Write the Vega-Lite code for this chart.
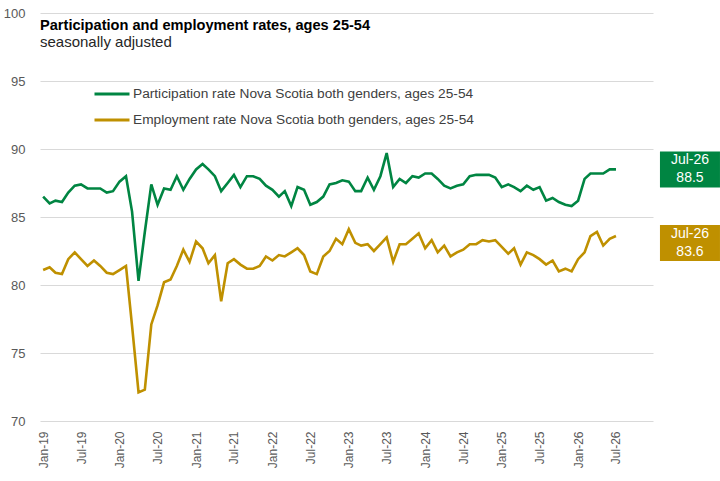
{
  "$schema": "https://vega.github.io/schema/vega-lite/v6.json",
  "width": 613,
  "height": 408,
  "autosize": {"type": "none"},
  "padding": {"left": 40, "top": 13, "right": 67, "bottom": 60},
  "background": "white",
  "title": {
    "text": "Participation and employment rates, ages 25-54",
    "subtitle": "seasonally adjusted",
    "anchor": "start",
    "frame": "group",
    "offset": -43,
    "font": "'Liberation Sans Narrow', 'Liberation Sans', sans-serif",
    "fontSize": 14.6,
    "fontWeight": "bold",
    "color": "#000000",
    "subtitleFont": "'Liberation Sans Narrow', 'Liberation Sans', sans-serif",
    "subtitleFontSize": 15,
    "subtitleColor": "#262626",
    "subtitlePadding": 2
  },
  "data": {
    "format": {"parse": {"date": "date"}},
    "values": [
      {"date": "2019/01/01", "p": 86.5, "e": 81.1},
      {"date": "2019/02/01", "p": 86.0, "e": 81.3},
      {"date": "2019/03/01", "p": 86.2, "e": 80.9},
      {"date": "2019/04/01", "p": 86.1, "e": 80.8},
      {"date": "2019/05/01", "p": 86.8, "e": 81.9},
      {"date": "2019/06/01", "p": 87.3, "e": 82.4},
      {"date": "2019/07/01", "p": 87.4, "e": 81.9},
      {"date": "2019/08/01", "p": 87.1, "e": 81.4},
      {"date": "2019/09/01", "p": 87.1, "e": 81.8},
      {"date": "2019/10/01", "p": 87.1, "e": 81.4},
      {"date": "2019/11/01", "p": 86.8, "e": 80.9},
      {"date": "2019/12/01", "p": 86.9, "e": 80.8},
      {"date": "2020/01/01", "p": 87.6, "e": 81.1},
      {"date": "2020/02/01", "p": 88.0, "e": 81.4},
      {"date": "2020/03/01", "p": 85.4, "e": 77.0},
      {"date": "2020/04/01", "p": 80.3, "e": 72.1},
      {"date": "2020/05/01", "p": 83.9, "e": 72.3},
      {"date": "2020/06/01", "p": 87.4, "e": 77.1},
      {"date": "2020/07/01", "p": 85.9, "e": 78.5},
      {"date": "2020/08/01", "p": 87.1, "e": 80.2},
      {"date": "2020/09/01", "p": 87.0, "e": 80.4},
      {"date": "2020/10/01", "p": 88.0, "e": 81.4},
      {"date": "2020/11/01", "p": 87.0, "e": 82.6},
      {"date": "2020/12/01", "p": 87.8, "e": 81.7},
      {"date": "2021/01/01", "p": 88.5, "e": 83.2},
      {"date": "2021/02/01", "p": 88.9, "e": 82.7},
      {"date": "2021/03/01", "p": 88.5, "e": 81.6},
      {"date": "2021/04/01", "p": 88.0, "e": 82.2},
      {"date": "2021/05/01", "p": 86.9, "e": 78.8},
      {"date": "2021/06/01", "p": 87.5, "e": 81.6},
      {"date": "2021/07/01", "p": 88.1, "e": 81.9},
      {"date": "2021/08/01", "p": 87.2, "e": 81.5},
      {"date": "2021/09/01", "p": 88.0, "e": 81.2},
      {"date": "2021/10/01", "p": 88.0, "e": 81.2},
      {"date": "2021/11/01", "p": 87.8, "e": 81.4},
      {"date": "2021/12/01", "p": 87.3, "e": 82.1},
      {"date": "2022/01/01", "p": 87.0, "e": 81.8},
      {"date": "2022/02/01", "p": 86.5, "e": 82.2},
      {"date": "2022/03/01", "p": 86.9, "e": 82.1},
      {"date": "2022/04/01", "p": 85.8, "e": 82.4},
      {"date": "2022/05/01", "p": 87.2, "e": 82.7},
      {"date": "2022/06/01", "p": 87.0, "e": 82.2},
      {"date": "2022/07/01", "p": 85.9, "e": 81.0},
      {"date": "2022/08/01", "p": 86.1, "e": 80.8},
      {"date": "2022/09/01", "p": 86.5, "e": 82.1},
      {"date": "2022/10/01", "p": 87.4, "e": 82.5},
      {"date": "2022/11/01", "p": 87.5, "e": 83.4},
      {"date": "2022/12/01", "p": 87.7, "e": 83.0},
      {"date": "2023/01/01", "p": 87.6, "e": 84.1},
      {"date": "2023/02/01", "p": 86.9, "e": 83.1},
      {"date": "2023/03/01", "p": 86.9, "e": 82.9},
      {"date": "2023/04/01", "p": 87.9, "e": 83.0},
      {"date": "2023/05/01", "p": 87.0, "e": 82.5},
      {"date": "2023/06/01", "p": 88.0, "e": 83.0},
      {"date": "2023/07/01", "p": 89.7, "e": 83.5},
      {"date": "2023/08/01", "p": 87.2, "e": 81.7},
      {"date": "2023/09/01", "p": 87.8, "e": 83.0},
      {"date": "2023/10/01", "p": 87.5, "e": 83.0},
      {"date": "2023/11/01", "p": 88.0, "e": 83.4},
      {"date": "2023/12/01", "p": 87.9, "e": 83.8},
      {"date": "2024/01/01", "p": 88.2, "e": 82.7},
      {"date": "2024/02/01", "p": 88.2, "e": 83.3},
      {"date": "2024/03/01", "p": 87.8, "e": 82.4},
      {"date": "2024/04/01", "p": 87.3, "e": 82.9},
      {"date": "2024/05/01", "p": 87.1, "e": 82.1},
      {"date": "2024/06/01", "p": 87.3, "e": 82.4},
      {"date": "2024/07/01", "p": 87.4, "e": 82.6},
      {"date": "2024/08/01", "p": 88.0, "e": 83.0},
      {"date": "2024/09/01", "p": 88.1, "e": 83.0},
      {"date": "2024/10/01", "p": 88.1, "e": 83.3},
      {"date": "2024/11/01", "p": 88.1, "e": 83.2},
      {"date": "2024/12/01", "p": 87.9, "e": 83.3},
      {"date": "2025/01/01", "p": 87.2, "e": 82.8},
      {"date": "2025/02/01", "p": 87.4, "e": 82.3},
      {"date": "2025/03/01", "p": 87.2, "e": 82.7},
      {"date": "2025/04/01", "p": 86.9, "e": 81.5},
      {"date": "2025/05/01", "p": 87.3, "e": 82.4},
      {"date": "2025/06/01", "p": 87.0, "e": 82.2},
      {"date": "2025/07/01", "p": 87.2, "e": 81.9},
      {"date": "2025/08/01", "p": 86.2, "e": 81.5},
      {"date": "2025/09/01", "p": 86.4, "e": 81.8},
      {"date": "2025/10/01", "p": 86.1, "e": 81.0},
      {"date": "2025/11/01", "p": 85.9, "e": 81.2},
      {"date": "2025/12/01", "p": 85.8, "e": 81.0},
      {"date": "2026/01/01", "p": 86.2, "e": 81.9},
      {"date": "2026/02/01", "p": 87.8, "e": 82.4},
      {"date": "2026/03/01", "p": 88.2, "e": 83.6},
      {"date": "2026/04/01", "p": 88.2, "e": 83.9},
      {"date": "2026/05/01", "p": 88.2, "e": 82.9},
      {"date": "2026/06/01", "p": 88.5, "e": 83.4},
      {"date": "2026/07/01", "p": 88.5, "e": 83.6}
    ]
  },
  "transform": [{"fold": ["p", "e"], "as": ["series", "rate"]}],
  "encoding": {
    "x": {
      "field": "date",
      "type": "temporal",
      "scale": {"domain": [{"year": 2018, "month": 12, "date": 17}, {"year": 2026, "month": 12, "date": 25}]},
      "axis": {
        "title": null,
        "format": "%b-%y",
        "tickCount": {"interval": "month", "step": 6},
        "labelAngle": 270,
        "labelPadding": 10,
        "labelFontSize": 12,
        "labelColor": "#595959",
        "labelFont": "Liberation Sans",
        "grid": false,
        "domain": false,
        "ticks": false,
        "labelOverlap": false
      }
    },
    "y": {
      "field": "rate",
      "type": "quantitative",
      "scale": {"domain": [70, 100], "nice": false, "zero": false},
      "axis": {
        "title": null,
        "values": [70, 75, 80, 85, 90, 95, 100],
        "domain": false,
        "ticks": false,
        "labelPadding": 15,
        "labelFontSize": 13,
        "labelColor": "#595959",
        "labelFont": "Liberation Sans",
        "gridColor": "#d9d9d9",
        "gridWidth": 1
      }
    },
    "color": {
      "field": "series",
      "type": "nominal",
      "scale": {"domain": ["p", "e"], "range": ["#008542", "#BF9000"]},
      "legend": {
        "title": null,
        "orient": "none",
        "legendX": 53,
        "legendY": 62,
        "padding": 0,
        "symbolType": "stroke",
        "symbolSize": 1225,
        "symbolStrokeWidth": 3,
        "labelFont": "'Liberation Sans Narrow', 'Liberation Sans', sans-serif",
        "labelFontSize": 13.7,
        "labelColor": "#404040",
        "labelOffset": 2,
        "labelLimit": 600,
        "rowPadding": -12,
        "labelExpr": "datum.label == 'p' ? 'Participation rate Nova Scotia both genders, ages 25-54' : 'Employment rate Nova Scotia both genders, ages 25-54'"
      }
    }
  },
  "layer": [
    {"mark": {"type": "line", "strokeWidth": 2.6}},
    {
      "transform": [{"filter": "datum.series == 'p' && datum.date >= datetime(2026, 6, 1)"}],
      "mark": {"type": "point", "shape": "M-1.667,-1L1.667,-1L1.667,1L-1.667,1Z", "size": 1296, "filled": true, "opacity": 1, "strokeWidth": 0, "xOffset": 74}
    },
    {
      "transform": [{"filter": "datum.series == 'p' && datum.date >= datetime(2026, 6, 1)"}],
      "mark": {"type": "text", "xOffset": 74, "yOffset": -9, "fontSize": 14, "font": "'Liberation Sans Narrow', 'Liberation Sans', sans-serif"},
      "encoding": {"text": {"field": "date", "type": "temporal", "format": "%b-%y"}, "color": {"value": "white"}}
    },
    {
      "transform": [{"filter": "datum.series == 'p' && datum.date >= datetime(2026, 6, 1)"}],
      "mark": {"type": "text", "xOffset": 74, "yOffset": 9, "fontSize": 14, "font": "'Liberation Sans Narrow', 'Liberation Sans', sans-serif"},
      "encoding": {"text": {"field": "rate", "type": "quantitative", "format": ".1f"}, "color": {"value": "white"}}
    },
    {
      "transform": [{"filter": "datum.series == 'e' && datum.date >= datetime(2026, 6, 1)"}],
      "mark": {"type": "point", "shape": "M-1.667,-1L1.667,-1L1.667,1L-1.667,1Z", "size": 1296, "filled": true, "opacity": 1, "strokeWidth": 0, "xOffset": 74, "yOffset": 7}
    },
    {
      "transform": [{"filter": "datum.series == 'e' && datum.date >= datetime(2026, 6, 1)"}],
      "mark": {"type": "text", "xOffset": 74, "yOffset": -2, "fontSize": 14, "font": "'Liberation Sans Narrow', 'Liberation Sans', sans-serif"},
      "encoding": {"text": {"field": "date", "type": "temporal", "format": "%b-%y"}, "color": {"value": "white"}}
    },
    {
      "transform": [{"filter": "datum.series == 'e' && datum.date >= datetime(2026, 6, 1)"}],
      "mark": {"type": "text", "xOffset": 74, "yOffset": 16, "fontSize": 14, "font": "'Liberation Sans Narrow', 'Liberation Sans', sans-serif"},
      "encoding": {"text": {"field": "rate", "type": "quantitative", "format": ".1f"}, "color": {"value": "white"}}
    }
  ],
  "config": {"view": {"stroke": null}, "font": "Liberation Sans"}
}
